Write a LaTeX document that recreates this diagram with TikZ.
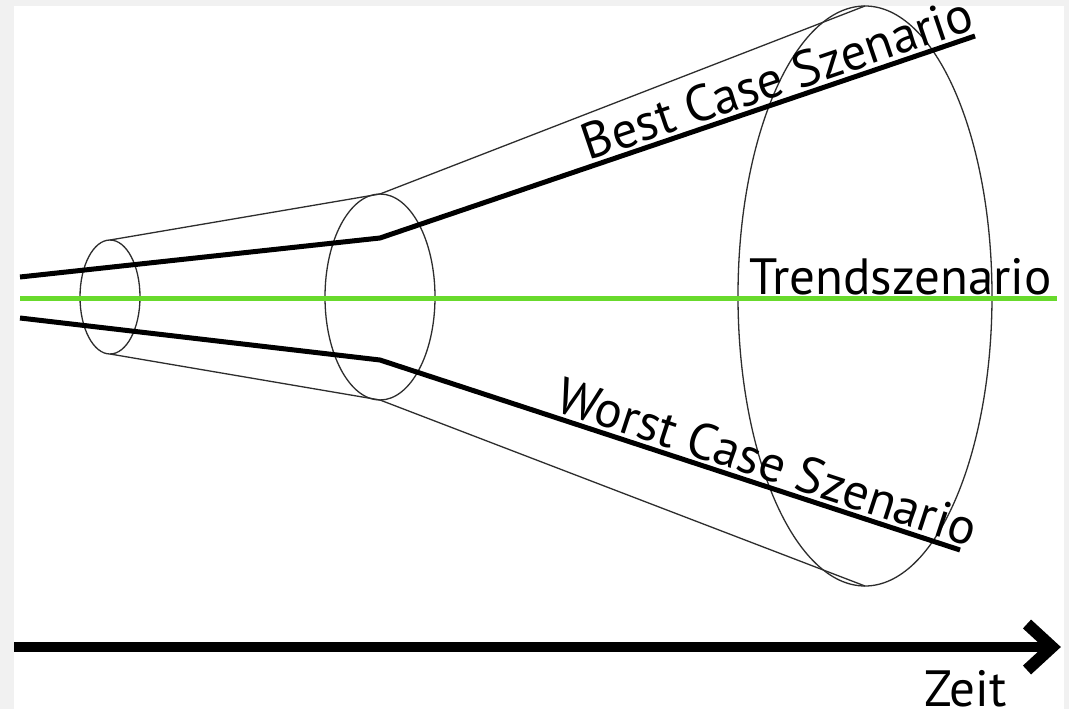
\documentclass[tikz,border=0pt]{standalone}
\usepackage{fontspec}
\setmainfont{PT Sans}
\definecolor{framegray}{RGB}{241,241,241}
\definecolor{trendgreen}{RGB}{104,218,44}
\definecolor{rimgray}{RGB}{45,45,45}
\begin{document}
\begin{tikzpicture}[x=1pt,y=-1pt,
  rim/.style={draw=rimgray, line width=1.3pt},
  scen/.style={draw=black, line width=5pt, line join=round},
  lbl/.style={font=\fontsize{51}{53}\selectfont, inner sep=0pt, text=black}]
% frame and canvas
\fill[framegray] (0,0) rectangle (1069,709);
\fill[white] (14,6) rectangle (1064,709);
\useasboundingbox (0,0) rectangle (1069,709);

% cross sections of the funnel
\draw[rim] (110,297) ellipse [x radius=30pt, y radius=57pt];
\draw[rim] (380,297) ellipse [x radius=55pt, y radius=103pt];
\draw[rim] (865,296) ellipse [x radius=127pt, y radius=290pt];

% funnel outline
\coordinate (u0) at (110,240);
\coordinate (u1) at (380,194);
\coordinate (u2) at (865,6);
\coordinate (l0) at (110,354);
\coordinate (l1) at (380,400);
\coordinate (l2) at (865,586);
\draw[rim] (u0) -- (u1) -- (u2);
\draw[rim] (l0) -- (l1) -- (l2);

% scenario paths
\coordinate (b0) at (20,277);
\coordinate (b1) at (380,238);
\coordinate (b2) at (975,36);
\coordinate (w0) at (20,318);
\coordinate (w1) at (380,360);
\coordinate (w2) at (960,550);
\coordinate (t0) at (20,298);
\coordinate (t1) at (1057,298);

\draw[draw=trendgreen, line width=5pt] (t0) -- (t1);
\draw[scen] (b0) -- (b1) -- node[lbl, sloped, anchor=south, inner sep=3pt, pos=0.68] (best) {Best Case Szenario} (b2);
\draw[scen] (w0) -- (w1) -- node[lbl, sloped, anchor=south, inner sep=3pt, pos=0.655] (worst) {Worst Case Szenario} (w2);
\node[lbl, anchor=base west] (trend) at (749,294) {Trendszenario};

% time axis
\coordinate (a0) at (14,647);
\coordinate (a1) at (1052,647);
\coordinate (h1) at (1027,624);
\coordinate (h2) at (1027,670);
\draw[line width=10pt] (a0) -- (a1);
\draw[line width=12pt, miter limit=10] (h1) -- (a1) -- (h2);
\node[lbl, anchor=base west] (zeit) at (924,706) {Zeit};
\end{tikzpicture}
\end{document}
